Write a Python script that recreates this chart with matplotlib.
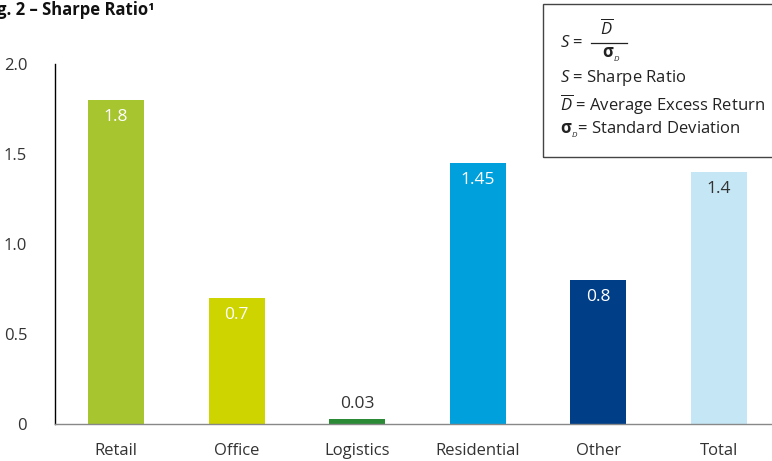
import matplotlib
matplotlib.use("Agg")
import matplotlib.pyplot as plt
from matplotlib.patches import Rectangle
from matplotlib.lines import Line2D

plt.rcParams['font.family'] = ['Open Sans', 'DejaVu Sans']
plt.rcParams['mathtext.fontset'] = 'custom'
plt.rcParams['mathtext.rm'] = 'Open Sans'
plt.rcParams['mathtext.it'] = 'Open Sans:italic'
plt.rcParams['mathtext.bf'] = 'Open Sans:bold'

categories = ["Retail", "Office", "Logistics", "Residential", "Other", "Total"]
values = [1.8, 0.7, 0.03, 1.45, 0.8, 1.4]
labels = ["1.8", "0.7", "0.03", "1.45", "0.8", "1.4"]
colors = ["#a6c52f", "#cdd400", "#2a8a35", "#00a0dc", "#003f87", "#c5e6f5"]
label_colors = ["white", "white", "#333333", "white", "white", "#333333"]
yticks = [0, 0.5, 1.0, 1.5, 2.0]
ytick_labels = ["0", "0.5", "1.0", "1.5", "2.0"]

W, H = 772, 461
fig = plt.figure(figsize=(7.72, 4.61), dpi=100)
ax = fig.add_axes([55/W, (H-424)/H, (W-55)/W, (424-64)/H])

x = list(range(len(categories)))
ax.bar(x, values, width=0.465, color=colors, zorder=2)
ax.set_xlim(-0.506, 5.44)
ax.set_ylim(0, 2.0)
ax.set_yticks(yticks)
ax.set_yticklabels(ytick_labels, fontsize=12, color="#333333")
ax.set_xticks(x)
ax.set_xticklabels(categories, fontsize=12, color="#333333")
ax.tick_params(axis='both', length=0)
ax.tick_params(axis='y', pad=20)
ax.tick_params(axis='x', pad=14)
for s in ['top', 'right']:
    ax.spines[s].set_visible(False)
ax.spines['left'].set_color('black')
ax.spines['left'].set_linewidth(1.0)
ax.spines['bottom'].set_color('#888888')
ax.spines['bottom'].set_linewidth(1.0)

for xi, v, lab, lc in zip(x, values, labels, label_colors):
    if v < 0.1:
        ax.text(xi, v + 0.035, lab, ha='center', va='bottom', fontsize=12.5, color=lc)
    else:
        ax.text(xi, v - 0.095, lab, ha='center', va='center', fontsize=12.5, color=lc)

def fx(px):
    return px / W

def fy(py):
    return 1 - py / H

fig.text(-0.004, fy(10), "g. 2 – Sharpe Ratio¹", fontsize=12, fontweight='bold',
         ha='left', va='center', color='#111111')

# formula box
box = Rectangle((fx(543), fy(157)), (775-543)/W, (157-4)/H,
                transform=fig.transFigure, fill=False, edgecolor='#444444',
                linewidth=1.0, clip_on=False)
fig.patches.append(box)
fs = 12
tc = '#222222'
fig.text(fx(560), fy(43), r'$S$ =', fontsize=fs, ha='left', va='center', color=tc)
fig.text(fx(607), fy(28), r'$\overline{D}$', fontsize=fs, ha='center', va='center', color=tc)
fig.lines.append(Line2D([fx(591), fx(627)], [fy(43), fy(43)], transform=fig.transFigure,
                        color=tc, linewidth=0.9))
fig.text(fx(602), fy(55), r'$\mathbf{\sigma}_{_D}$', fontsize=fs, ha='left', va='center', color=tc)
fig.text(fx(560), fy(78), r'$S$ = Sharpe Ratio', fontsize=fs, ha='left', va='center', color=tc)
fig.text(fx(560), fy(105), r'$\overline{D}$ = Average Excess Return', fontsize=fs, ha='left', va='center', color=tc)
fig.text(fx(560), fy(130), r'$\mathbf{\sigma}_{_D}$= Standard Deviation', fontsize=fs, ha='left', va='center', color=tc)

fig.savefig("out.png", dpi=100)
